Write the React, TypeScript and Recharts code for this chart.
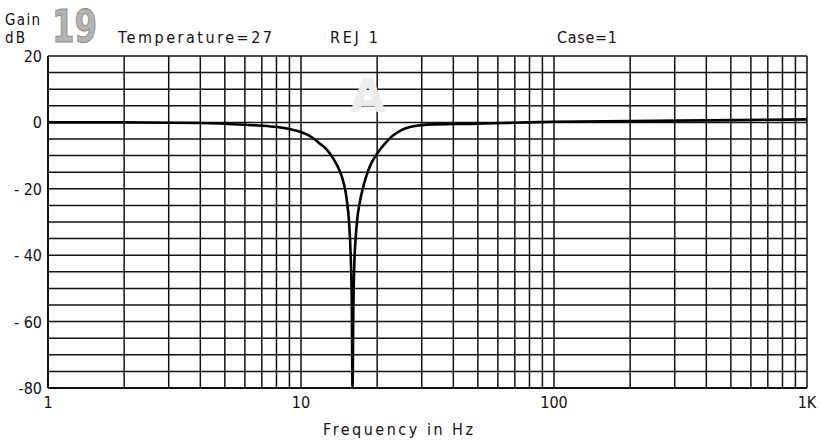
import { LineChart, Line, XAxis, YAxis, CartesianGrid } from 'recharts';

// frequency (Hz) and gain (dB)
const FREQ = [
  1, 2, 3, 4, 5, 6, 7, 8, 9, 10, 11, 11.88, 12.67, 13.42, 14.07, 14.59, 14.97, 15.24, 15.45, 15.62,
  15.76, 15.88, 15.98,
  16.11, 16.24, 16.44, 16.69, 17.03, 17.47, 18.07, 18.91, 20.15, 21.68, 23.17, 24.85, 26.97, 29.53, 32.95,
  40, 50, 70, 100, 200, 400, 700, 1000,
];
const GAIN = [
  0, 0, -0.1, -0.2, -0.4, -0.7, -1.0, -1.4, -2.0, -2.9, -4.4, -6.4, -8.3, -10.9, -13.8, -17, -20.5, -24.5, -29, -35,
  -43, -55, -80,
  -55, -43, -35, -29, -24.5, -20.5, -16.5, -12.5, -9, -6, -3.9, -2.4, -1.4, -0.9, -0.6,
  -0.5, -0.4, -0.1, 0.2, 0.4, 0.6, 0.8, 0.9,
];

const X_TICKS = [
  1, 2, 3, 4, 5, 6, 7, 8, 9,
  10, 20, 30, 40, 50, 60, 70, 80, 90,
  100, 200, 300, 400, 500, 600, 700, 800, 900, 1000,
];
const X_LABELS: Record<number, string> = { 1: '1', 10: '10', 100: '100', 1000: '1K' };
const Y_TICKS = [-80, -75, -70, -65, -60, -55, -50, -45, -40, -35, -30, -25, -20, -15, -10, -5, 0, 5, 10, 15, 20];
const Y_LABELS: Record<number, string> = { 20: '20', 0: '0', [-20]: '- 20', [-40]: '- 40', [-60]: '- 60', [-80]: '-80' };

const data = FREQ.map((f, i) => ({ f, g: GAIN[i] }));

const FONT = "'Liberation Sans Narrow', 'DejaVu Sans Condensed', 'Roboto', sans-serif";

const XTick = (props: any) => {
  const { x, y, payload } = props;
  const label = X_LABELS[payload.value];
  if (!label) return <g />;
  return (
    <text x={x} y={y} dy={12} textAnchor="middle" fontFamily={FONT} fontSize={16} fill="#111">
      {label}
    </text>
  );
};

const YTick = (props: any) => {
  const { x, y, payload } = props;
  const label = Y_LABELS[payload.value];
  if (!label) return <g />;
  return (
    <text x={x + 2} y={y} dy={6} textAnchor="end" fontFamily={FONT} fontSize={16} fill="#111">
      {label}
    </text>
  );
};

export default function App() {
  return (
    <div style={{ position: 'absolute', left: 0, top: 0, width: 821, height: 446, background: '#fff' }}>
      <LineChart width={821} height={446} data={data} margin={{ top: 56, right: 14, left: 8, bottom: 28 }}>
        <CartesianGrid stroke="#111" strokeWidth={1.5} />
        <XAxis
          dataKey="f"
          type="number"
          scale="log"
          domain={[1, 1000]}
          ticks={X_TICKS}
          interval={0}
          tick={<XTick />}
          tickLine={false}
          axisLine={{ stroke: '#111', strokeWidth: 2 }}
          height={30}
          allowDataOverflow
        />
        <YAxis
          type="number"
          domain={[-80, 20]}
          ticks={Y_TICKS}
          interval={0}
          tick={<YTick />}
          tickLine={false}
          axisLine={{ stroke: '#111', strokeWidth: 2 }}
          width={40}
          allowDataOverflow
        />
        <Line
          type="monotone"
          dataKey="g"
          stroke="#000"
          strokeWidth={2.6}
          dot={false}
          isAnimationActive={false}
        />
      </LineChart>

      <svg width={821} height={446} style={{ position: 'absolute', left: 0, top: 0, pointerEvents: 'none' }}>
        <text x={350} y={112} fontFamily="'DejaVu Sans', sans-serif" fontWeight="bold" fontSize={46} fill="#ececec">A</text>
        <g fontFamily={FONT} fill="#111">
          <text x={5} y={25} fontSize={15} textLength={35} lengthAdjust="spacing">Gain</text>
          <text x={5} y={43} fontSize={15} textLength={20} lengthAdjust="spacing">dB</text>
          <text x={118} y={43} fontSize={16} textLength={154} lengthAdjust="spacing">Temperature=27</text>
          <text x={330} y={43} fontSize={16} textLength={48} lengthAdjust="spacing">REJ 1</text>
          <text x={557} y={43} fontSize={16} textLength={60} lengthAdjust="spacing">Case=1</text>
          <text x={323} y={435} fontSize={16} textLength={150} lengthAdjust="spacing">Frequency in Hz</text>
        </g>
        <text x={52} y={42} fontFamily={FONT} fontWeight="bold" fontSize={45}
          fill="#b4b4b4" stroke="#8a8a8a" strokeWidth={1} textLength={45} lengthAdjust="spacingAndGlyphs">19</text>
      </svg>
    </div>
  );
}
